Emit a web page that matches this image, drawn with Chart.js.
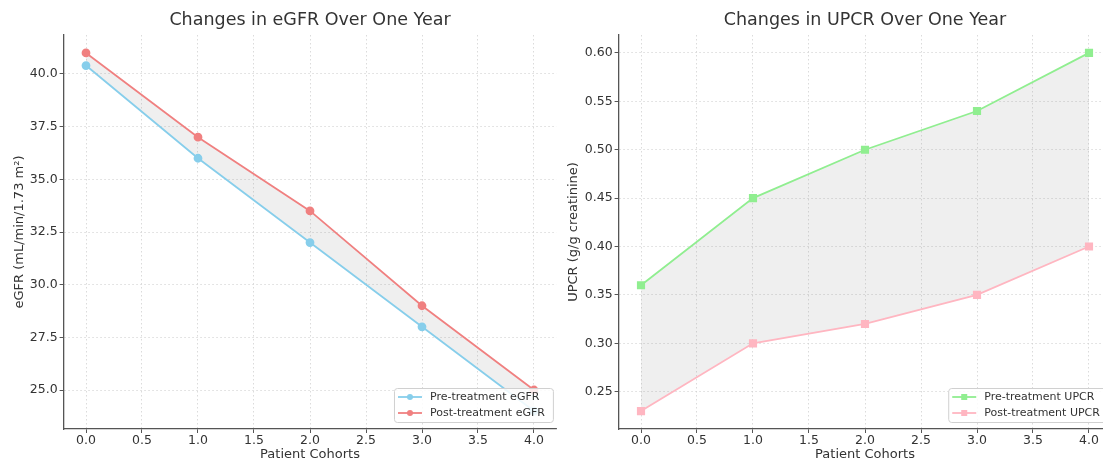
<!DOCTYPE html>
<html>
<head>
<meta charset="utf-8">
<script src="https://cdn.jsdelivr.net/npm/chart.js@4.4.1/dist/chart.umd.min.js"></script>
<style>
html, body { margin: 0; padding: 0; overflow: hidden; background: #fff; width: 1103px; height: 461px; }
#left { position: absolute; left: 0; top: 0; }
#right { position: absolute; left: 560px; top: 0; }
</style>
</head>
<body>
<canvas id="left" width="570" height="470"></canvas>
<canvas id="right" width="570" height="470"></canvas>
<script>
// chart values
const cohorts = [0, 1, 2, 3, 4];
const xTicks = [0, 0.5, 1, 1.5, 2, 2.5, 3, 3.5, 4];
const egfrPre = [40.4, 36, 32, 28, 24];
const egfrPost = [41, 37, 33.5, 29, 25];
const egfrTicks = [25, 27.5, 30, 32.5, 35, 37.5, 40];
const upcrPre = [0.36, 0.45, 0.50, 0.54, 0.60];
const upcrPost = [0.23, 0.30, 0.32, 0.35, 0.40];
const upcrTicks = [0.25, 0.30, 0.35, 0.40, 0.45, 0.50, 0.55, 0.60];

Chart.defaults.font.family = '"DejaVu Sans", sans-serif';
Chart.defaults.color = '#333';

// legend box in the lower right corner of the plot + title over the plot area
const plotExtras = {
    id: 'plotExtras',
    afterDraw(chart, args, opts) {
        const {ctx, chartArea} = chart;
        ctx.save();
        // title
        ctx.font = '17.5px "DejaVu Sans"';
        ctx.fillStyle = '#333';
        ctx.textAlign = 'center';
        ctx.textBaseline = 'middle';
        ctx.fillText(opts.title, (chartArea.left + chartArea.right) / 2, 20);

        // legend
        const items = chart.data.datasets;
        ctx.font = '11px "DejaVu Sans"';
        const textW = Math.max(...items.map(d => ctx.measureText(d.label).width));
        const w = 4 + 24 + 8 + textW + 8;
        const h = 34;
        const x = chartArea.right - 3.5 - w;
        const y = chartArea.bottom - 7 - h;
        ctx.fillStyle = 'rgba(255,255,255,0.85)';
        ctx.strokeStyle = '#d0d0d0';
        ctx.lineWidth = 1;
        ctx.beginPath();
        ctx.roundRect(x + 0.5, y + 0.5, w, h, 3);
        ctx.fill();
        ctx.stroke();
        items.forEach((d, i) => {
            const cy = y + 9 + i * 16;
            ctx.strokeStyle = d.borderColor;
            ctx.lineWidth = 1.8;
            ctx.beginPath();
            ctx.moveTo(x + 4, cy);
            ctx.lineTo(x + 28, cy);
            ctx.stroke();
            ctx.fillStyle = d.borderColor;
            if (d.pointStyle === 'rect') {
                ctx.fillRect(x + 16 - 3, cy - 3, 6, 6);
            } else {
                ctx.beginPath();
                ctx.arc(x + 16, cy, 3, 0, Math.PI * 2);
                ctx.fill();
            }
            ctx.fillStyle = '#333';
            ctx.textAlign = 'left';
            ctx.textBaseline = 'middle';
            ctx.fillText(d.label, x + 36, cy);
        });
        ctx.restore();
    }
};

function makeChart(id, cfg) {
    const ctx = document.getElementById(id).getContext('2d');
    new Chart(ctx, {
        type: 'line',
        data: {
            datasets: [{
                label: cfg.labels[0],
                data: cohorts.map((c, i) => ({x: c, y: cfg.pre[i]})),
                borderColor: cfg.colors[0],
                pointBackgroundColor: cfg.colors[0],
                pointBorderColor: cfg.colors[0],
                pointStyle: cfg.marker,
                pointRadius: cfg.marker === 'rect' ? 4.5 : 3.5,
                borderWidth: 1.8,
                fill: false
            }, {
                label: cfg.labels[1],
                data: cohorts.map((c, i) => ({x: c, y: cfg.post[i]})),
                borderColor: cfg.colors[1],
                pointBackgroundColor: cfg.colors[1],
                pointBorderColor: cfg.colors[1],
                pointStyle: cfg.marker,
                pointRadius: cfg.marker === 'rect' ? 4.5 : 3.5,
                borderWidth: 1.8,
                fill: {target: 0, above: 'rgba(128,128,128,0.13)', below: 'rgba(128,128,128,0.13)'}
            }]
        },
        options: {
            responsive: false,
            animation: false,
            devicePixelRatio: 1,
            layout: {padding: {left: 0, right: cfg.padRight, top: 35, bottom: 0}},
            plugins: {
                legend: {display: false},
                tooltip: {enabled: false},
                plotExtras: {title: cfg.title}
            },
            scales: {
                x: {
                    type: 'linear',
                    min: -0.2,
                    max: 4.2,
                    afterBuildTicks: s => { s.ticks = xTicks.map(v => ({value: v})); },
                    afterFit: s => { s.height = 41; },
                    ticks: {callback: v => v.toFixed(1), font: {size: 12.5}, color: '#333', padding: 0, maxRotation: 0, autoSkip: false},
                    grid: {color: '#d2d2d2', lineWidth: 0.8, tickLength: 4, tickColor: '#555', tickWidth: 1, tickBorderDash: []},
                    border: {display: true, color: '#555', width: 1.3, dash: [1.5, 2.5]},
                    title: {display: true, text: 'Patient Cohorts', font: {size: 13}, color: '#333', padding: {top: 0, bottom: 7.4}}
                },
                y: {
                    min: cfg.yMin,
                    max: cfg.yMax,
                    afterBuildTicks: s => { s.ticks = cfg.yTicks.map(v => ({value: v})); },
                    afterFit: s => { s.width = cfg.yWidth; },
                    ticks: {callback: v => v.toFixed(cfg.decimals), font: {size: 12.5}, color: '#333', padding: 2},
                    grid: {color: '#d2d2d2', lineWidth: 0.8, tickLength: 4, tickColor: '#555', tickWidth: 1, tickBorderDash: []},
                    border: {display: true, color: '#555', width: 1.3, dash: [1.5, 2.5]},
                    title: {display: true, text: cfg.yTitle, font: {size: 13}, color: '#333', padding: {top: cfg.yTitlePad, bottom: 0}}
                }
            }
        },
        plugins: [plotExtras]
    });
}

makeChart('left', {
    title: 'Changes in eGFR Over One Year',
    labels: ['Pre-treatment eGFR', 'Post-treatment eGFR'],
    pre: egfrPre,
    post: egfrPost,
    colors: ['#87CEEB', '#F08080'],
    marker: 'circle',
    yMin: 23.15, yMax: 41.85,
    yTicks: egfrTicks,
    decimals: 1,
    yTitle: 'eGFR (mL/min/1.73 m²)',
    yTitlePad: 12.2,
    yWidth: 63.6,
    padRight: 13.6
});

makeChart('right', {
    title: 'Changes in UPCR Over One Year',
    labels: ['Pre-treatment UPCR', 'Post-treatment UPCR'],
    pre: upcrPre,
    post: upcrPost,
    colors: ['#90EE90', '#FFB6C1'],
    marker: 'rect',
    yMin: 0.2115, yMax: 0.6185,
    yTicks: upcrTicks,
    decimals: 2,
    yTitle: 'UPCR (g/g creatinine)',
    yTitlePad: 6.2,
    yWidth: 58.6,
    padRight: 18.6
});
</script>
</body>
</html>
